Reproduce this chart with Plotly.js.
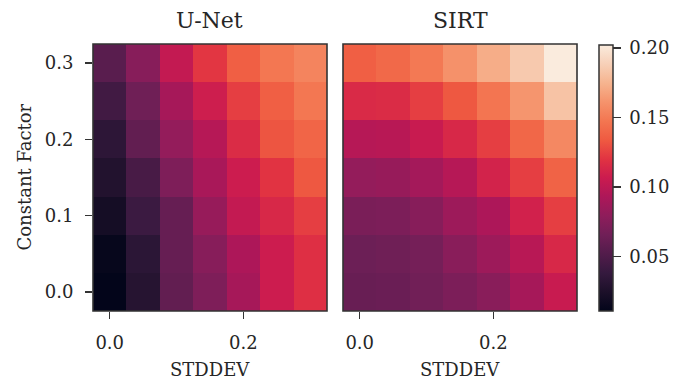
<!DOCTYPE html>
<html>
<head>
<meta charset="utf-8">
<script src="https://cdn.plot.ly/plotly-3.0.1.min.js"></script>
<style>
  html, body { margin: 0; padding: 0; background: #ffffff; }
  #chart { width: 689px; height: 381px; }
</style>
</head>
<body>
<div id="chart"></div>
<script>
// Grid coordinates (noise standard deviation and constant factor)
const stddev = [0.0, 0.05, 0.10, 0.15, 0.20, 0.25, 0.30];
const constantFactor = [0.0, 0.05, 0.10, 0.15, 0.20, 0.25, 0.30];

// Error values, one row per constant factor (bottom row = 0.0)
const unetError = [
  [0.011, 0.030, 0.059, 0.072, 0.090, 0.107, 0.118],
  [0.013, 0.033, 0.061, 0.076, 0.093, 0.107, 0.118],
  [0.021, 0.041, 0.061, 0.083, 0.103, 0.114, 0.124],
  [0.028, 0.047, 0.072, 0.091, 0.107, 0.120, 0.133],
  [0.034, 0.059, 0.082, 0.097, 0.116, 0.132, 0.139],
  [0.044, 0.065, 0.090, 0.108, 0.124, 0.136, 0.148],
  [0.055, 0.076, 0.103, 0.121, 0.136, 0.148, 0.154]
];
const sirtError = [
  [0.062, 0.063, 0.066, 0.071, 0.077, 0.090, 0.105],
  [0.064, 0.065, 0.068, 0.077, 0.086, 0.098, 0.114],
  [0.070, 0.071, 0.076, 0.086, 0.093, 0.110, 0.124],
  [0.082, 0.083, 0.089, 0.097, 0.111, 0.124, 0.138],
  [0.097, 0.098, 0.105, 0.114, 0.124, 0.140, 0.156],
  [0.115, 0.116, 0.124, 0.133, 0.147, 0.162, 0.182],
  [0.136, 0.141, 0.149, 0.160, 0.172, 0.185, 0.202]
];

const panelTitles = ['U-Net', 'SIRT'];
const xTitle = 'STDDEV';
const yTitle = 'Constant Factor';
const xTickVals = [0.0, 0.2];
const xTickText = ['0.0', '0.2'];
const yTickVals = [0.0, 0.1, 0.2, 0.3];
const yTickText = ['0.0', '0.1', '0.2', '0.3'];
const cbarTickVals = [0.05, 0.10, 0.15, 0.20];
const cbarTickText = ['0.05', '0.10', '0.15', '0.20'];
const zMin = 0.011;
const zMax = 0.202;

// seaborn "rocket" colour map
const rocket = [
  [0.000, '#03051A'],
  [0.0714, '#1c1029'],
  [0.143, '#35193E'],
  [0.214, '#521c4b'],
  [0.286, '#701F57'],
  [0.357, '#8e1d5b'],
  [0.429, '#AD1759'],
  [0.500, '#cb1b4f'],
  [0.571, '#E13342'],
  [0.643, '#ef5a41'],
  [0.714, '#F37651'],
  [0.786, '#f5936c'],
  [0.857, '#F6B48F'],
  [0.929, '#f7d0b8'],
  [1.000, '#FAEBDD']
];

const FONT = 'DejaVu Serif, Liberation Serif, serif';
const INK = '#262626';
const FRAME = '#333333';
const TICK_SIZE = 18;

// panel placement in pixels
const W = 689, H = 381;
const panelX = [[93, 327], [343, 577]];
const panelTop = 44, panelBottom = 311;

function heat(z, xa, ya, showScale) {
  const t = {
    type: 'heatmap',
    x: stddev, y: constantFactor, z: z,
    xaxis: xa, yaxis: ya,
    colorscale: rocket, zmin: zMin, zmax: zMax,
    showscale: showScale,
    hoverinfo: 'x+y+z'
  };
  if (showScale) {
    t.colorbar = {
      x: 599 / W, xanchor: 'left', xref: 'paper',
      y: 1 - panelBottom / H, yanchor: 'bottom', yref: 'paper',
      len: (panelBottom - 45) / H, lenmode: 'fraction',
      thickness: 14, thicknessmode: 'pixels',
      outlinecolor: FRAME, outlinewidth: 1.5,
      tickvals: cbarTickVals, ticktext: cbarTickText.map(s => '\u2005' + s),
      ticks: 'outside', ticklen: 8, tickwidth: 1.5, tickcolor: FRAME,
      tickfont: { family: FONT, size: TICK_SIZE, color: INK },
      xpad: 0, ypad: 0
    };
  }
  return t;
}

function xAxis(i, anchor) {
  return {
    domain: [panelX[i][0] / W, panelX[i][1] / W], anchor: anchor,
    range: [-0.025, 0.325], fixedrange: true,
    tickvals: xTickVals, ticktext: xTickText,
    ticks: 'outside', ticklen: 7, tickwidth: 1.5, tickcolor: FRAME,
    ticklabelstandoff: 8,
    tickfont: { family: FONT, size: TICK_SIZE, color: INK },
    showline: false, showgrid: false, zeroline: false
  };
}

function yAxis(anchor, labels) {
  return {
    domain: [1 - panelBottom / H, 1 - panelTop / H], anchor: anchor,
    range: [-0.025, 0.325], fixedrange: true,
    tickvals: yTickVals, ticktext: labels ? yTickText : ['', '', '', ''],
    ticks: labels ? 'outside' : '', ticklen: 7, tickwidth: 1.5, tickcolor: FRAME,
    ticklabelstandoff: 8,
    tickfont: { family: FONT, size: TICK_SIZE, color: INK },
    showline: false, showgrid: false, zeroline: false
  };
}

const data = [
  heat(unetError, 'x', 'y', false),
  heat(sirtError, 'x2', 'y2', true)
];

// frame around each panel
const frames = ['x', 'x2'].map((xa, i) => ({
  type: 'rect', layer: 'above',
  xref: xa + ' domain', yref: (i === 0 ? 'y' : 'y2') + ' domain',
  x0: 0, x1: 1, y0: 0, y1: 1,
  line: { color: FRAME, width: 1.6 }
}));

const annotations = [];
panelTitles.forEach((txt, i) => {
  const cx = (panelX[i][0] + panelX[i][1]) / 2 / W;
  annotations.push({
    text: txt, showarrow: false, xref: 'paper', yref: 'paper',
    x: cx, xanchor: 'center', y: 1 - 20 / H, yanchor: 'middle',
    font: { family: FONT, size: 22, color: INK }
  });
  annotations.push({
    text: xTitle, showarrow: false, xref: 'paper', yref: 'paper',
    x: cx, xanchor: 'center', y: 1 - 369 / H, yanchor: 'middle',
    font: { family: FONT, size: TICK_SIZE, color: INK }
  });
});
annotations.push({
  text: yTitle, showarrow: false, xref: 'paper', yref: 'paper', textangle: -90,
  x: 24 / W, xanchor: 'center', y: 1 - ((panelTop + panelBottom) / 2) / H, yanchor: 'middle',
  font: { family: FONT, size: TICK_SIZE, color: INK }
});

const layout = {
  width: W, height: H,
  margin: { l: 0, r: 0, t: 0, b: 0 },
  paper_bgcolor: '#ffffff', plot_bgcolor: '#ffffff',
  showlegend: false,
  xaxis: xAxis(0, 'y'),
  yaxis: yAxis('x', true),
  xaxis2: xAxis(1, 'y2'),
  yaxis2: yAxis('x2', false),
  shapes: frames,
  annotations: annotations
};

Plotly.newPlot('chart', data, layout, { displayModeBar: false, staticPlot: true });
</script>
</body>
</html>
